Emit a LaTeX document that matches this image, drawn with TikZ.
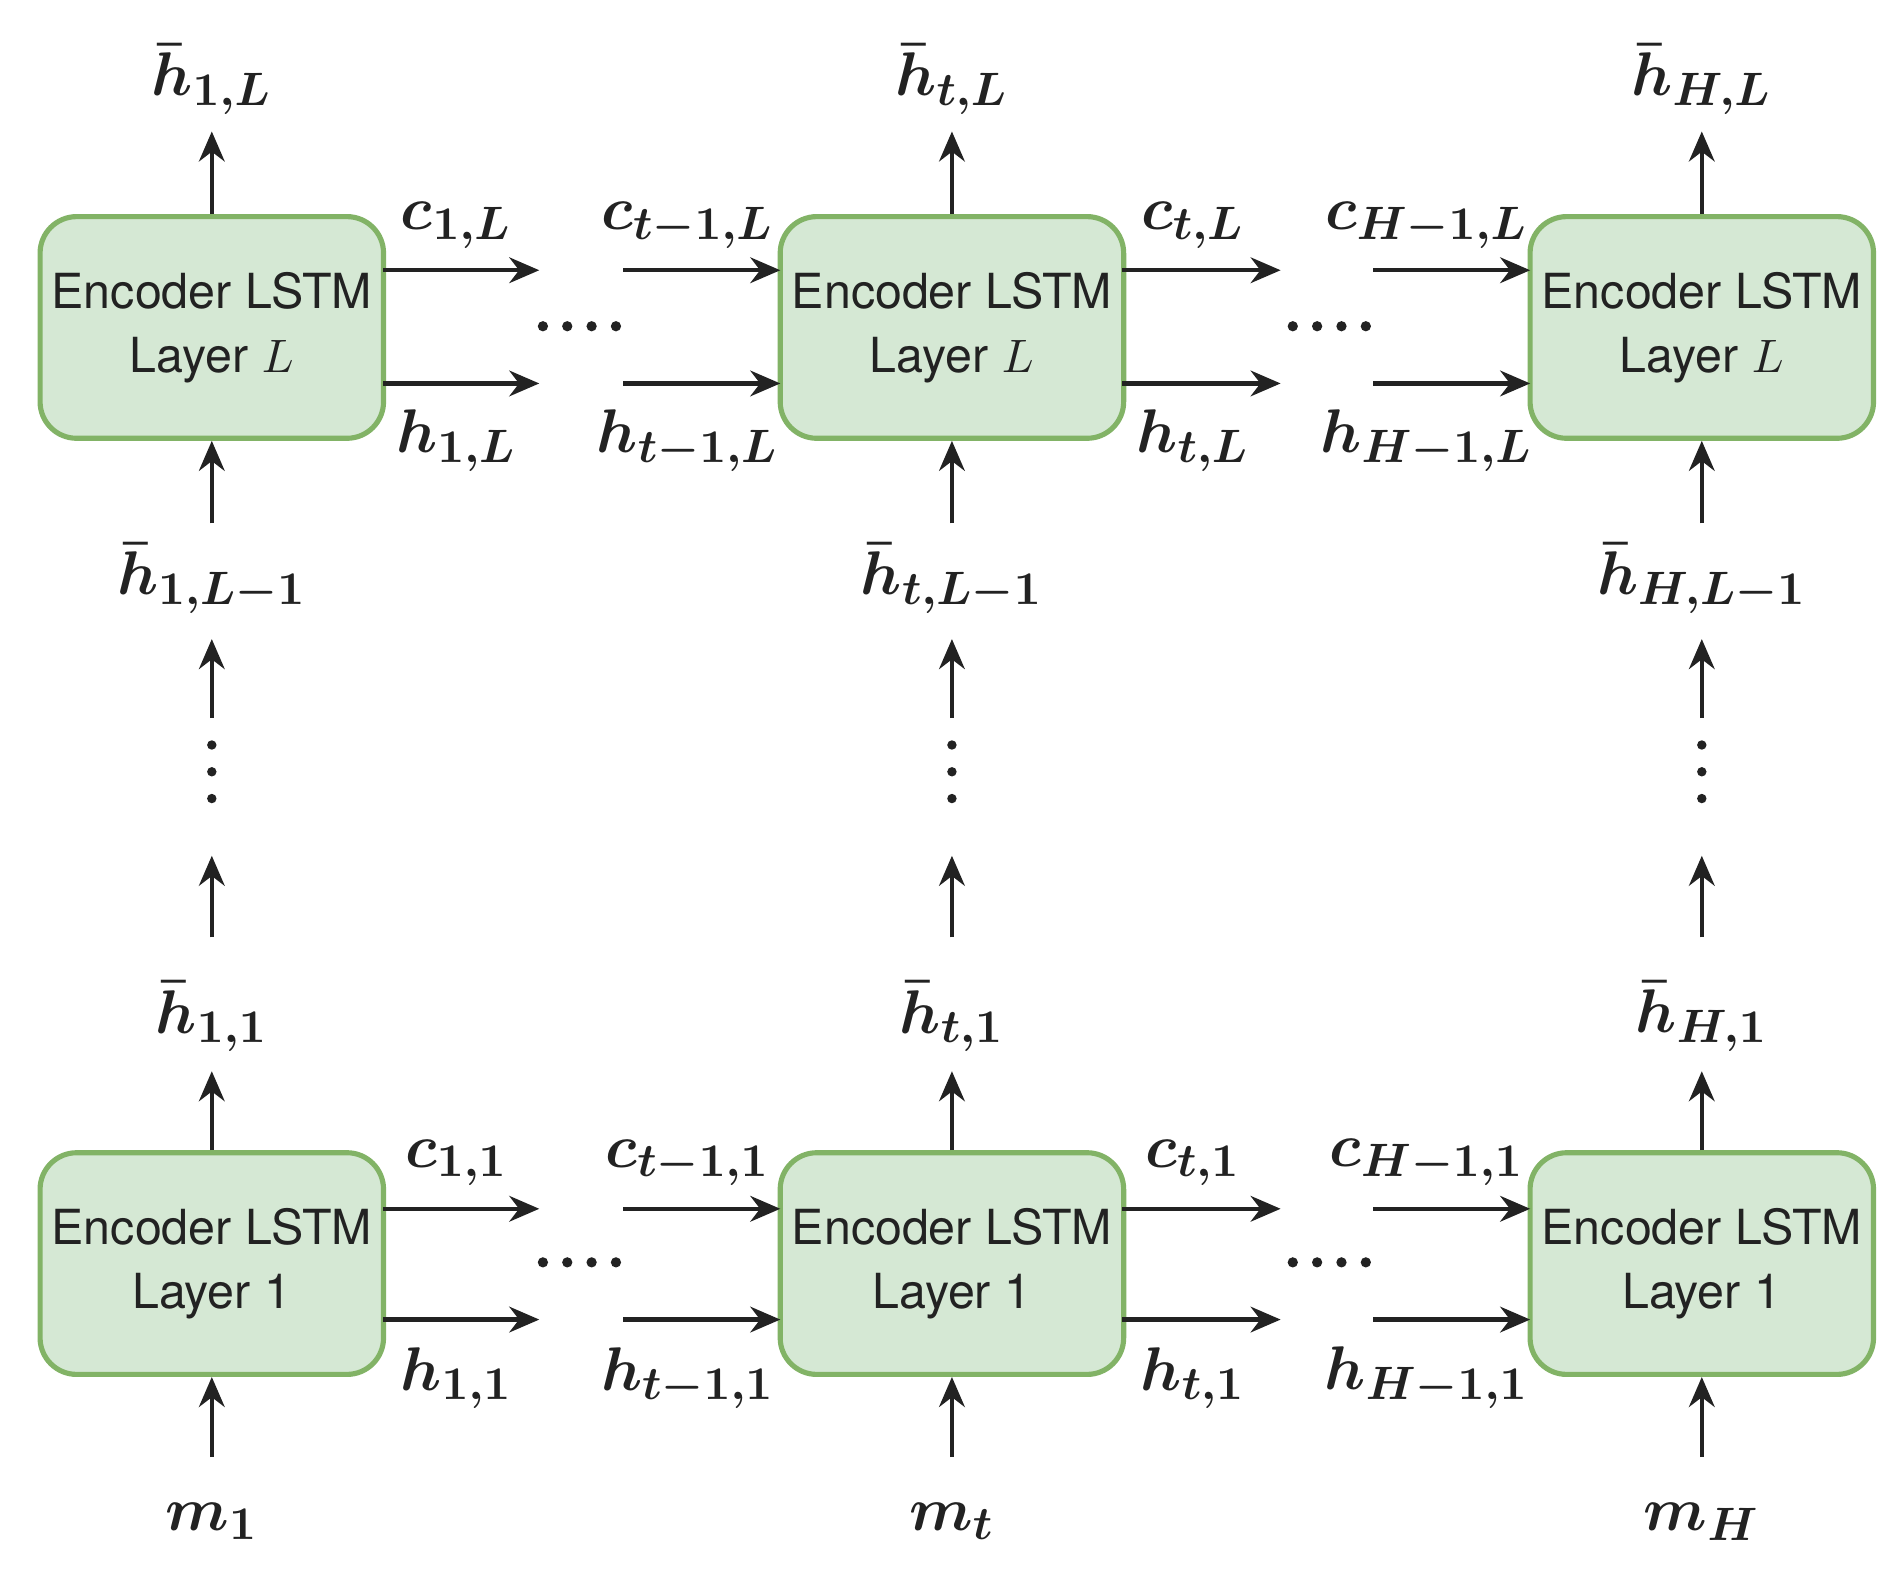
\documentclass[tikz,border=0pt]{standalone}
\usepackage{amsmath}
\usepackage{fontspec}
\newfontfamily\heros{TeX Gyre Heros}
\usetikzlibrary{arrows.meta}
\definecolor{bfill}{HTML}{D5E8D4}
\definecolor{bdraw}{HTML}{82B366}
\definecolor{ink}{HTML}{222222}
\begin{document}
\begin{tikzpicture}[x=0.01cm,y=-0.01cm,
  box/.style={draw=bdraw,fill=bfill,line width=1.2pt,rounded corners=0.3cm,minimum width=2.82cm,minimum height=1.82cm,inner sep=0pt,align=center,font=\heros\fontsize{11.3}{15}\selectfont,text=ink},
  arr/.style={-{Stealth[length=7pt,width=6pt]},line width=1pt,draw=ink},
  lab/.style={font=\fontsize{15.5}{18}\selectfont,text=ink,inner sep=0pt}]
\useasboundingbox (0,0) rectangle (1560,1300);
\newcommand{\bh}[1]{$\boldsymbol{\bar h_{#1}}$}
\newcommand{\bb}[1]{$\boldsymbol{#1}$}
% boxes
\foreach \x/\n in {174/a,782/b,1398/c}{
  \node[box] (\n L) at (\x,269) {Encoder LSTM\\Layer $L$};
  \node[box] (\n 1) at (\x,1038) {Encoder LSTM\\Layer 1};
}
% horizontal arrows
\foreach \y in {222,315,993,1084}{
  \coordinate (p1) at (443,\y); \coordinate (p2) at (512,\y);
  \coordinate (q1) at (1052,\y); \coordinate (q2) at (1128,\y);
  \draw[arr] (315,\y) -- (p1);
  \draw[arr] (p2) -- (641,\y);
  \draw[arr] (922,\y) -- (q1);
  \draw[arr] (q2) -- (1257,\y);
}
\foreach \y in {268,1037}{
  \foreach \xx in {446,466,486,506,1062,1082,1102,1122}{
    \fill[ink] (\xx,\y) circle (1.2pt);}
}
% horizontal labels
\node[lab] (c1L) at (375,185) {\bb{c_{1,L}}};
\node[lab] (ct1L) at (565,185) {\bb{c_{t-1,L}}};
\node[lab] (h1L) at (375,362) {\bb{h_{1,L}}};
\node[lab] (ht1L) at (565,362) {\bb{h_{t-1,L}}};
\node[lab] (ctL) at (980,185) {\bb{c_{t,L}}};
\node[lab] (cH1L) at (1172,185) {\bb{c_{H-1,L}}};
\node[lab] (htL) at (980,362) {\bb{h_{t,L}}};
\node[lab] (hH1L) at (1172,362) {\bb{h_{H-1,L}}};
\node[lab] (c11) at (375,955) {\bb{c_{1,1}}};
\node[lab] (ct11) at (565,955) {\bb{c_{t-1,1}}};
\node[lab] (h11) at (375,1132) {\bb{h_{1,1}}};
\node[lab] (ht11) at (565,1132) {\bb{h_{t-1,1}}};
\node[lab] (ct1) at (980,955) {\bb{c_{t,1}}};
\node[lab] (cH11) at (1172,955) {\bb{c_{H-1,1}}};
\node[lab] (ht1) at (980,1132) {\bb{h_{t,1}}};
\node[lab] (hH11) at (1172,1132) {\bb{h_{H-1,1}}};
% vertical
\foreach \x/\n/\i in {174/a/1,782/b/t,1398/c/H}{
  \node[lab] (top\n) at (\x,65) {\bh{\i,L}};
  \draw[arr] (\n L.north) -- (\x,108);
  \node[lab] (mid\n) at (\x,475) {\bh{\i,L-1}};
  \draw[arr] (\x,430) -- (\n L.south);
  \coordinate (s\n) at (\x,590); \coordinate (e\n) at (\x,525);
  \draw[arr] (s\n) -- (e\n);
  \foreach \yy in {612,634,656}{\fill[ink] (\x,\yy) circle (1.1pt);}
  \draw[arr] (\x,770) -- (\x,703);
  \node[lab] (low\n) at (\x,835) {\bh{\i,1}};
  \draw[arr] (\n 1.north) -- (\x,880);
  \node[lab] (m\n) at (\x,1250) {\bb{m_{\i}}};
  \draw[arr] (\x,1197) -- (\n 1.south);
}
\end{tikzpicture}
\end{document}
